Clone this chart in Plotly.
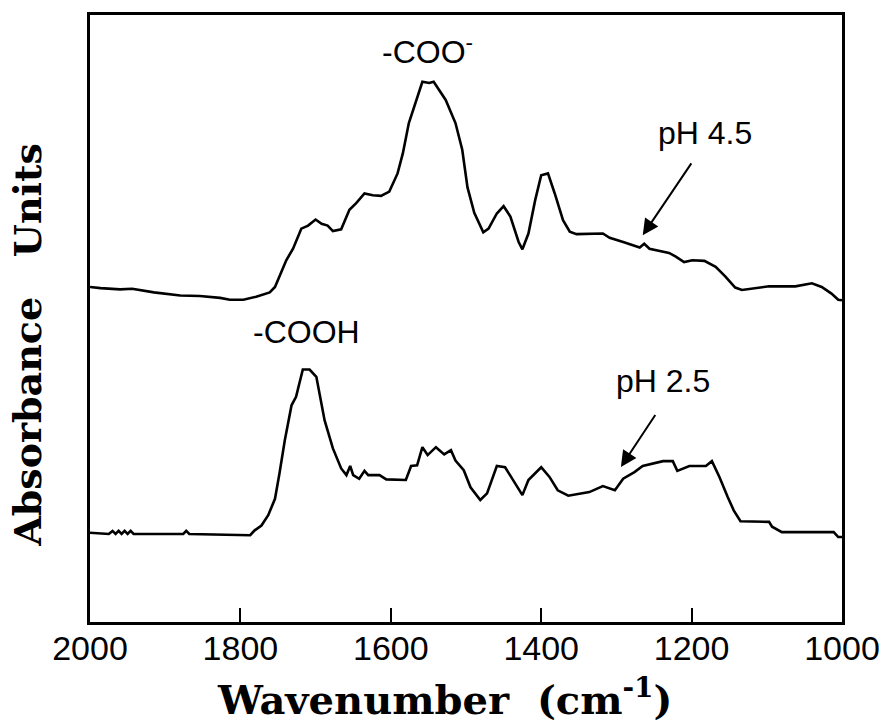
import plotly.graph_objects as go

# pH 4.5 spectrum (wavenumber, absorbance arbitrary units)
wn_ph45 = [2000, 1986, 1960, 1944, 1915, 1880, 1854, 1827, 1814, 1796, 1779, 1761, 1754,
           1739, 1730, 1719, 1710, 1700, 1692, 1684, 1677, 1666, 1655, 1646, 1635, 1624,
           1613, 1602, 1591, 1584, 1576, 1567, 1558, 1549, 1543, 1527, 1514, 1505, 1498,
           1489, 1480, 1477, 1470, 1459, 1450, 1441, 1430, 1425, 1417, 1408, 1400, 1391,
           1382, 1371, 1362, 1353, 1318, 1309, 1291, 1269, 1263, 1256, 1230, 1221, 1210,
           1199, 1183, 1168, 1155, 1142, 1133, 1115, 1097, 1080, 1062, 1040, 1027, 1014,
           1005, 1000]
abs_ph45 = [0.552, 0.550, 0.548, 0.549, 0.543, 0.538, 0.537, 0.534, 0.531, 0.531, 0.536, 0.543, 0.552,
            0.596, 0.615, 0.648, 0.653, 0.663, 0.656, 0.653, 0.644, 0.647, 0.679, 0.690, 0.706, 0.703,
            0.702, 0.709, 0.739, 0.772, 0.822, 0.857, 0.890, 0.888, 0.890, 0.860, 0.822, 0.778, 0.716,
            0.674, 0.649, 0.642, 0.648, 0.673, 0.685, 0.668, 0.626, 0.614, 0.640, 0.695, 0.736, 0.739,
            0.706, 0.662, 0.643, 0.639, 0.640, 0.633, 0.626, 0.617, 0.623, 0.615, 0.608, 0.602, 0.593,
            0.596, 0.595, 0.585, 0.569, 0.551, 0.547, 0.550, 0.553, 0.553, 0.553, 0.558, 0.552, 0.541,
            0.531, 0.530]

# pH 2.5 spectrum
wn_ph25 = [2000, 1975, 1970, 1966, 1962, 1958, 1954, 1950, 1946, 1942, 1876, 1872, 1868,
           1787, 1781, 1772, 1763, 1754, 1748, 1741, 1732, 1726, 1717, 1708, 1699, 1688,
           1677, 1666, 1659, 1654, 1650, 1642, 1635, 1630, 1615, 1606, 1580, 1573, 1565,
           1558, 1551, 1540, 1529, 1520, 1514, 1503, 1494, 1481, 1472, 1459, 1448, 1435,
           1425, 1417, 1406, 1400, 1389, 1378, 1364, 1336, 1318, 1302, 1291, 1276, 1265,
           1238, 1225, 1219, 1203, 1181, 1173, 1163, 1152, 1144, 1135, 1115, 1097, 1093,
           1080, 1040, 1011, 1005, 1000]
abs_ph25 = [0.147, 0.145, 0.150, 0.145, 0.150, 0.145, 0.150, 0.145, 0.150, 0.145, 0.145, 0.150, 0.145,
            0.143, 0.151, 0.159, 0.176, 0.203, 0.245, 0.299, 0.357, 0.371, 0.416, 0.416, 0.404, 0.332,
            0.286, 0.253, 0.242, 0.257, 0.242, 0.236, 0.249, 0.242, 0.242, 0.235, 0.234, 0.257, 0.258,
            0.288, 0.275, 0.288, 0.276, 0.283, 0.266, 0.250, 0.222, 0.201, 0.212, 0.257, 0.255, 0.228,
            0.209, 0.234, 0.247, 0.255, 0.239, 0.217, 0.208, 0.214, 0.224, 0.217, 0.236, 0.247, 0.257,
            0.265, 0.265, 0.249, 0.257, 0.257, 0.265, 0.239, 0.206, 0.184, 0.166, 0.165, 0.165, 0.157,
            0.148, 0.148, 0.148, 0.140, 0.140]

x_ticks = [2000, 1800, 1600, 1400, 1200, 1000]
x_tick_labels = ["2000", "1800", "1600", "1400", "1200", "1000"]

fig = go.Figure()
fig.add_trace(go.Scatter(x=wn_ph45, y=abs_ph45, mode="lines",
                         line=dict(color="black", width=2.6), showlegend=False))
fig.add_trace(go.Scatter(x=wn_ph25, y=abs_ph25, mode="lines",
                         line=dict(color="black", width=2.6), showlegend=False))

label_font = dict(family="Liberation Sans, Arial, sans-serif", size=32, color="black")

fig.add_annotation(x=1551, y=0.942, text="-COO<sup>-</sup>", showarrow=False,
                   font=label_font, xanchor="center", yanchor="middle")
fig.add_annotation(x=1712, y=0.4775, text="-COOH", showarrow=False,
                   font=label_font, xanchor="center", yanchor="middle")
fig.add_annotation(x=1182, y=0.805, text="pH 4.5", showarrow=False,
                   font=label_font, xanchor="center", yanchor="middle")
fig.add_annotation(x=1238, y=0.397, text="pH 2.5", showarrow=False,
                   font=label_font, xanchor="center", yanchor="middle")

# arrows
fig.add_annotation(x=1265, y=0.637, ax=1199, ay=0.758, axref="x", ayref="y",
                   xref="x", yref="y", text="", showarrow=True,
                   arrowhead=2, arrowsize=1.6, arrowwidth=2, arrowcolor="black")
fig.add_annotation(x=1294, y=0.2555, ax=1247, ay=0.3435, axref="x", ayref="y",
                   xref="x", yref="y", text="", showarrow=True,
                   arrowhead=2, arrowsize=1.6, arrowwidth=2, arrowcolor="black")

fig.add_annotation(xref="paper", yref="paper", x=0.472, y=-0.124,
                   text="<b>Wavenumber\u00a0\u00a0(cm<sup>-1</sup>)</b>", showarrow=False,
                   font=dict(family="DejaVu Serif, serif", size=40, color="black"),
                   xanchor="center", yanchor="middle")
fig.add_annotation(xref="paper", yref="paper", x=-0.083, y=0.456,
                   text="<b>Absorbance\u00a0\u00a0\u00a0Units</b>", showarrow=False,
                   font=dict(family="DejaVu Serif, serif", size=38, color="black"),
                   xanchor="center", yanchor="middle", textangle=-90)

fig.update_xaxes(range=[2000, 1000], tickvals=x_ticks, ticktext=x_tick_labels,
                 ticks="inside", ticklen=14, tickwidth=2, tickcolor="black",
                 ticklabelstandoff=-6,
                 showline=True, linecolor="black", linewidth=2.5, mirror=True,
                 showgrid=False, zeroline=False,
                 tickfont=dict(family="Liberation Sans, Arial, sans-serif", size=34, color="black"))
fig.update_yaxes(range=[0, 1], showticklabels=False, ticks="",
                 showline=True, linecolor="black", linewidth=2.5, mirror=True,
                 showgrid=False, zeroline=False)

fig.update_layout(width=892, height=725, plot_bgcolor="white", paper_bgcolor="white",
                  margin=dict(l=90, r=45, t=15, b=103))

fig.write_html("out.html")
